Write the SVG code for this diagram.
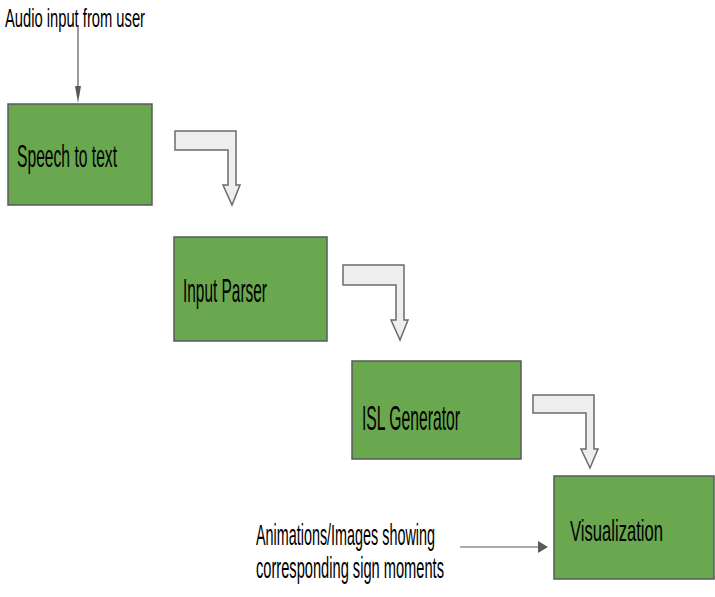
<svg xmlns="http://www.w3.org/2000/svg" width="715" height="597" viewBox="0 0 715 597">
<style>
.box{fill:#6aa84f;stroke:#595959;stroke-width:1.5}
.bent{fill:#eeeeee;stroke:#6b6b6b;stroke-width:1.5;stroke-linejoin:miter}
.lbl{font-family:"Liberation Sans",Arial,sans-serif;fill:#000}
.ln{stroke:#595959;stroke-width:1.2;fill:none}
.head{fill:#595959}
</style>
<rect width="715" height="597" fill="#ffffff"/>
<g id="speech-to-text">
<rect class="box" x="8" y="104" width="144" height="101"/>
<text class="lbl" transform="translate(17,167) scale(0.5,1)" font-size="31" textLength="200" lengthAdjust="spacingAndGlyphs">Speech to text</text>
</g>
<g id="input-parser">
<rect class="box" x="174" y="237" width="153" height="104"/>
<text class="lbl" transform="translate(183,302) scale(0.5,1)" font-size="33" textLength="168" lengthAdjust="spacingAndGlyphs">Input Parser</text>
</g>
<g id="isl-generator">
<rect class="box" x="352" y="361" width="169" height="98"/>
<text class="lbl" transform="translate(362,430) scale(0.5,1)" font-size="35" textLength="196" lengthAdjust="spacingAndGlyphs">ISL Generator</text>
</g>
<g id="visualization">
<rect class="box" x="554" y="476" width="160" height="103"/>
<text class="lbl" transform="translate(570,541) scale(0.5,1)" font-size="30" textLength="186" lengthAdjust="spacingAndGlyphs">Visualization</text>
</g>
<g id="audio-label">
<text class="lbl" transform="translate(5,27) scale(0.5,1)" font-size="25" textLength="280" lengthAdjust="spacingAndGlyphs">Audio input from user</text>
</g>
<g id="animations-label">
<text class="lbl" transform="translate(256,545) scale(0.5,1)" font-size="30" textLength="358" lengthAdjust="spacingAndGlyphs">Animations/Images showing</text>
<text class="lbl" transform="translate(256,578) scale(0.5,1)" font-size="30" textLength="376" lengthAdjust="spacingAndGlyphs">corresponding sign moments</text>
</g>
<g id="connectors">
<line class="ln" x1="78" y1="25" x2="78" y2="90"/>
<polygon class="head" points="75,86 81,86 78,103"/>
<line class="ln" x1="460" y1="547" x2="540" y2="547"/>
<polygon class="head" points="538,541 538,553 548,547"/>
<polygon class="bent" points="175,131 236,131 236,185 240,185 232,205 223,185 228,185 228,150 175,150"/>
<polygon class="bent" points="343,265 404,265 404,320 408,320 400,340 391,320 396,320 396,285 343,285"/>
<polygon class="bent" points="533,395 594,395 594,449 598,449 590,468 581,449 586,449 586,413 533,413"/>
</g>
</svg>
